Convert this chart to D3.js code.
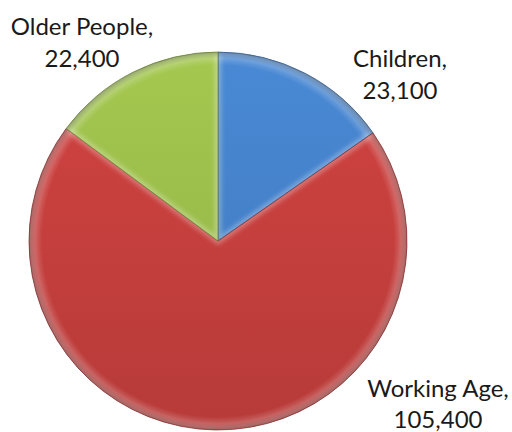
<!DOCTYPE html>
<html>
<head>
<meta charset="utf-8">
<script src="https://cdn.jsdelivr.net/npm/d3@7"></script>
<style>
  body { margin: 0; background: #fff; }
  text { font-family: Lato, "Open Sans", sans-serif; font-size: 24px; fill: #1a1a1a; }
</style>
</head>
<body>
<svg id="chart" width="512" height="432"></svg>
<script>
var categories = ["Children", "Working Age", "Older People"];
var values = [23100, 105400, 22400];
var colors = ["#4683cc", "#c8403e", "#9dc04c"];
var labelText = ["23,100", "105,400", "22,400"];

// label centre x and the two baselines, as Excel placed them
var labelPos = [[400, 67, 99], [438, 397, 428], [82, 35, 67]];

var svg = d3.select("#chart");
var cx = 218, cy = 241, r = 189;

var defs = svg.append("defs");
colors.forEach(function(c, i) {
	var base = d3.color(c);
	// top lighter, bottom darker
	var lg = defs.append("linearGradient")
		.attr("id", "grad" + i)
		.attr("gradientUnits", "userSpaceOnUse")
		.attr("x1", 0).attr("y1", -r).attr("x2", 0).attr("y2", r);
	lg.append("stop").attr("offset", "0%").attr("stop-color", base.brighter(0.12));
	lg.append("stop").attr("offset", "100%").attr("stop-color", base.darker(0.25));
	// rim: thin light band then a dark edge
	var rg = defs.append("radialGradient")
		.attr("id", "rim" + i)
		.attr("gradientUnits", "userSpaceOnUse")
		.attr("cx", 0).attr("cy", 0).attr("r", r);
	rg.append("stop").attr("offset", "0%").attr("stop-color", "#fff").attr("stop-opacity", 0);
	rg.append("stop").attr("offset", "93%").attr("stop-color", "#fff").attr("stop-opacity", 0);
	rg.append("stop").attr("offset", "96.5%").attr("stop-color", "#fff").attr("stop-opacity", 0.18);
	rg.append("stop").attr("offset", "100%").attr("stop-color", "#000").attr("stop-opacity", 0.35);
});

defs.append("filter").attr("id", "soft")
	.append("feGaussianBlur").attr("stdDeviation", 2);

var pie = d3.pie().sort(null).value(function(d) { return d; });
var arc = d3.arc().innerRadius(0).outerRadius(r);
var arcs = pie(values);

var g = svg.append("g").attr("transform", "translate(" + cx + "," + cy + ")");

arcs.forEach(function(d, i) {
	defs.append("clipPath").attr("id", "clip" + i)
		.append("path").attr("d", arc(d));
});

var slices = g.selectAll("g.slice")
	.data(arcs)
	.enter().append("g")
	.attr("class", "slice");

slices.append("path")
	.attr("d", arc)
	.attr("fill", function(d, i) { return "url(#grad" + i + ")"; });

slices.append("path")
	.attr("d", arc)
	.attr("fill", function(d, i) { return "url(#rim" + i + ")"; });

// bevel along the straight edges: light inner glow clipped to the slice
slices.append("path")
	.attr("d", arc)
	.attr("fill", "none")
	.attr("stroke", "#fff")
	.attr("stroke-opacity", 0.28)
	.attr("stroke-width", 7)
	.attr("filter", "url(#soft)")
	.attr("clip-path", function(d, i) { return "url(#clip" + i + ")"; });

slices.append("path")
	.attr("d", arc)
	.attr("fill", "none")
	.attr("stroke", function(d, i) { return d3.color(colors[i]).darker(1.2); })
	.attr("stroke-opacity", 0.7)
	.attr("stroke-width", 1);

var labels = svg.selectAll("text.lbl")
	.data(arcs)
	.enter().append("text")
	.attr("class", "lbl")
	.attr("text-anchor", "middle");
labels.append("tspan")
	.attr("x", function(d, i) { return labelPos[i][0]; })
	.attr("y", function(d, i) { return labelPos[i][1]; })
	.text(function(d, i) { return categories[i] + ","; });
labels.append("tspan")
	.attr("x", function(d, i) { return labelPos[i][0]; })
	.attr("y", function(d, i) { return labelPos[i][2]; })
	.text(function(d, i) { return labelText[i]; });
</script>
</body>
</html>
